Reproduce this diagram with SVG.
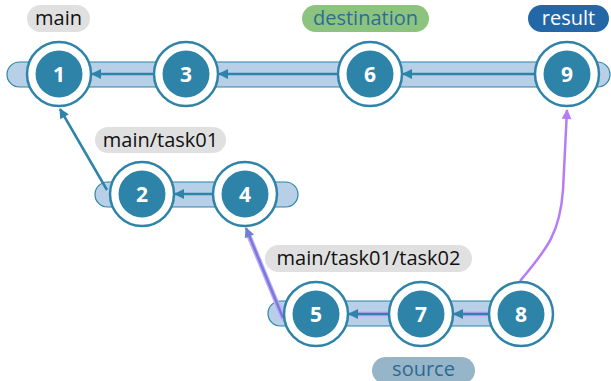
<svg xmlns="http://www.w3.org/2000/svg" width="611" height="381" viewBox="0 0 611 381">
<style>
.lane{fill:#b8cfe8;stroke:#2e84a8;stroke-width:1.2}
.ring{fill:#fff;stroke:#2e84a8;stroke-width:2.5}
.core{fill:#2e84a8}
.num{font-family:"Open Sans","Noto Sans",sans-serif;font-weight:bold;font-size:21px;fill:#fff;text-anchor:middle}
.lbl{font-family:"Open Sans","Noto Sans",sans-serif;font-size:20px;text-anchor:middle}
.e{stroke:#2e84a8;stroke-width:2.5;fill:none;marker-end:url(#ah)}
.hl{stroke:#c9a6ff;stroke-width:5;fill:none;stroke-linecap:round}
.pe{stroke:#6f7fd8;stroke-width:2.5;fill:none;marker-end:url(#ap)}
</style>
<defs>
<marker id="ah" viewBox="0 0 10 10" refX="9" refY="5" markerWidth="13" markerHeight="10" orient="auto" markerUnits="userSpaceOnUse">
<path d="M0,0 L10,5 L0,10 z" fill="#2e84a8"/>
</marker>
<marker id="ap" viewBox="0 0 10 10" refX="9" refY="5" markerWidth="13" markerHeight="10" orient="auto" markerUnits="userSpaceOnUse">
<path d="M0,0 L10,5 L0,10 z" fill="#6f7fd8"/>
</marker>
<marker id="av" viewBox="0 0 10 10" refX="9" refY="5" markerWidth="13" markerHeight="10" orient="auto" markerUnits="userSpaceOnUse">
<path d="M0,0 L10,5 L0,10 z" fill="#b57cf6"/>
</marker>
</defs>
<g id="lanes">
<rect class="lane" x="7" y="62" width="603" height="25" rx="12.5"/>
<rect class="lane" x="95" y="182" width="203" height="25" rx="12.5"/>
<rect class="lane" x="268" y="301" width="260" height="25" rx="12.5"/>
</g>
<g id="labels">
<g id="label-main"><rect x="27" y="5" width="63" height="27" rx="13.5" fill="#e0e0e0"/><text class="lbl" x="58.5" y="25" fill="#111">main</text></g>
<g id="label-destination"><rect x="302" y="5" width="127" height="27" rx="13.5" fill="#8cc47f"/><text class="lbl" x="365.5" y="25" fill="#2c6c96">destination</text></g>
<g id="label-result"><rect x="528" y="5" width="81" height="27" rx="13.5" fill="#2467a6"/><text class="lbl" x="568.5" y="25" fill="#fff">result</text></g>
<g id="label-task01"><rect x="95" y="127" width="131" height="26" rx="13" fill="#e0e0e0"/><text class="lbl" x="160.5" y="147" fill="#111">main/task01</text></g>
<g id="label-task02"><rect x="265" y="245" width="207" height="27" rx="13.5" fill="#e0e0e0"/><text class="lbl" x="368.5" y="265" fill="#111">main/task01/task02</text></g>
<g id="label-source"><rect x="372" y="357" width="103" height="27" rx="13.5" fill="#97b5c8"/><text class="lbl" x="423.5" y="376" fill="#2c6a93">source</text></g>
</g>
<g id="connectors">
<line class="e" x1="154" y1="74" x2="92" y2="74"/>
<line class="e" x1="338" y1="74" x2="219" y2="74"/>
<line class="e" x1="535" y1="74" x2="403" y2="74"/>
<line class="e" x1="107" y1="190" x2="60" y2="109"/>
<line class="e" x1="213" y1="194" x2="175" y2="194"/>
<line class="hl" x1="283" y1="318" x2="249" y2="236"/>
<line class="pe" x1="283" y1="318" x2="246" y2="228"/>
<line class="hl" x1="388" y1="314" x2="352" y2="314"/>
<line class="e" x1="388" y1="314" x2="349" y2="314"/>
<line class="hl" x1="488" y1="314" x2="457" y2="314"/>
<line class="e" x1="488" y1="314" x2="454" y2="314"/>
<path d="M520,281 C548,248 560,232 563,190 L567,110" stroke="#b57cf6" stroke-width="2.5" fill="none" marker-end="url(#av)"/>
</g>
<g id="node-1"><circle class="ring" cx="59" cy="74" r="32"/><circle class="core" cx="59" cy="74" r="23.5"/><text class="num" x="59" y="81.5">1</text></g>
<g id="node-3"><circle class="ring" cx="186" cy="74" r="32"/><circle class="core" cx="186" cy="74" r="23.5"/><text class="num" x="186" y="81.5">3</text></g>
<g id="node-6"><circle class="ring" cx="370" cy="74" r="32"/><circle class="core" cx="370" cy="74" r="23.5"/><text class="num" x="370" y="81.5">6</text></g>
<g id="node-9"><circle class="ring" cx="567" cy="74" r="32"/><circle class="core" cx="567" cy="74" r="23.5"/><text class="num" x="567" y="81.5">9</text></g>
<g id="node-2"><circle class="ring" cx="142" cy="194" r="32"/><circle class="core" cx="142" cy="194" r="23.5"/><text class="num" x="142" y="201.5">2</text></g>
<g id="node-4"><circle class="ring" cx="245" cy="194" r="32"/><circle class="core" cx="245" cy="194" r="23.5"/><text class="num" x="245" y="201.5">4</text></g>
<g id="node-5"><circle class="ring" cx="316" cy="314" r="32"/><circle class="core" cx="316" cy="314" r="23.5"/><text class="num" x="316" y="321.5">5</text></g>
<g id="node-7"><circle class="ring" cx="421" cy="314" r="32"/><circle class="core" cx="421" cy="314" r="23.5"/><text class="num" x="421" y="321.5">7</text></g>
<g id="node-8"><circle class="ring" cx="521" cy="314" r="32"/><circle class="core" cx="521" cy="314" r="23.5"/><text class="num" x="521" y="321.5">8</text></g>
</svg>
